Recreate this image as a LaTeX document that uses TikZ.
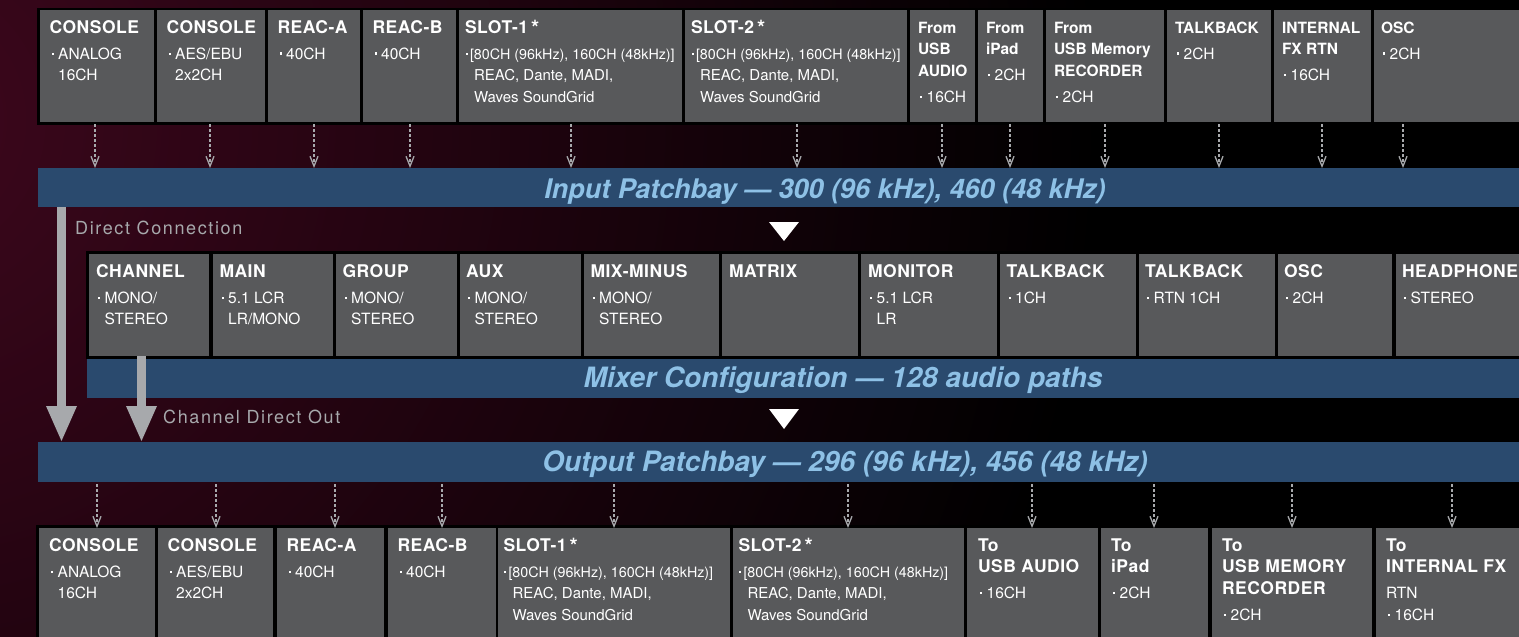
\documentclass[tikz,border=0pt]{standalone}
\usepackage{fontspec}
\setmainfont{TeX Gyre Heros}
\newfontfamily\ttlf[LetterSpace=3]{TeX Gyre Heros}
\newfontfamily\lblf[LetterSpace=9]{TeX Gyre Heros}
\usetikzlibrary{arrows.meta}
\definecolor{cellgray}{HTML}{58595B}
\definecolor{barblue}{HTML}{2A4A6E}
\definecolor{bartxt}{HTML}{8EC1E6}
\definecolor{arrgray}{HTML}{A7A9AC}
\definecolor{maroonbg}{HTML}{3E071D}

\newcommand\Tb[1]{{\ttlf\bfseries\fontsize{17.5}{21.5}\selectfont #1}}
\newcommand\Ts[1]{{\bfseries\fontsize{15.5}{21.5}\selectfont #1}}
\newcommand\Dt{\makebox[8.7pt][l]{\hspace{2pt}\rule[4.3pt]{2.2pt}{2.2pt}}}
\newcommand\Ind{\hspace*{8.7pt}}
\newcommand\Ast{\,\raisebox{-2pt}{\fontsize{21}{21}\selectfont *}}
\newcommand\SlotBody{\makebox[5pt][l]{\hspace{0.5pt}\rule[4.3pt]{2.1pt}{2.1pt}}{\fontsize{14.3}{21.5}\selectfont{}[80CH (96kHz), 160CH (48kHz)]}\\\hspace*{9pt}{\fontsize{15}{21.5}\selectfont REAC, Dante, MADI,}\\\hspace*{9pt}{\fontsize{15}{21.5}\selectfont Waves SoundGrid}}

\tikzset{
  cell/.style={fill=cellgray, draw=none, inner sep=0pt, outer sep=0pt, anchor=north west},
  celltxt/.style={anchor=north west, inner sep=0pt, outer sep=0pt, align=left, text=white,
    font=\fontsize{15.5}{21.5}\selectfont},
  bar/.style={fill=barblue, draw=none, inner sep=0pt, outer sep=0pt, anchor=north west},
  bartext/.style={text=bartxt, inner sep=0pt, anchor=base},
  lbl/.style={text=arrgray, inner sep=0pt, anchor=base west, font=\lblf\fontsize{18}{20}\selectfont},
  dasharrow/.style={draw=arrgray, line width=1.6pt, dash pattern=on 2.6pt off 2.4pt,
    shorten <=2pt, -{Straight Barb[length=10pt,width=8pt,line width=1.3pt]}},
  bigarrow/.style={draw=arrgray, line width=9pt, -{Triangle[length=35pt,width=31pt,line width=0pt]}},
  marker/.style={fill=white, draw=none}
}

\newcommand\cell[7]{%
  \node[cell, minimum width={#4-#2}, minimum height={#5-#3}] (#1) at (#2,#3) {};
  \node[celltxt] (#1-t) at ([shift={(#6pt,-9pt)}]#1.north west) {\rule{0pt}{14pt}#7};}

\begin{document}
\begin{tikzpicture}[x=1pt,y=-1pt]
\useasboundingbox (0,0) rectangle (1519,637);
\begin{scope}
\clip (0,0) rectangle (1519,637);
% background
\fill[black] (0,0) rectangle (1519,637);
\shade[inner color=maroonbg, outer color=black] (-100,120) circle (1200pt);
% frames
\fill[black] (37,8) rectangle (1530,125);
\fill[black] (86,251) rectangle (1530,359);
\fill[black] (36,525) rectangle (1530,640);

% top row
\cell{t1}{40}{10}{154}{122}{9.5}{\Tb{CONSOLE}\\[4.5pt]\Dt ANALOG\\\Ind 16CH}
\cell{t2}{157}{10}{265}{122}{9.5}{\Tb{CONSOLE}\\[4.5pt]\Dt AES/EBU\\\Ind 2x2CH}
\cell{t3}{268}{10}{360}{122}{9.5}{\Tb{REAC-A}\\[4.5pt]\Dt 40CH}
\cell{t4}{363}{10}{456}{122}{9.5}{\Tb{REAC-B}\\[4.5pt]\Dt 40CH}
\cell{t5}{459}{10}{682}{122}{6}{\Tb{SLOT-1\Ast}\\[4.5pt]\SlotBody}
\cell{t6}{685}{10}{907}{122}{6}{\Tb{SLOT-2\Ast}\\[4.5pt]\SlotBody}
\cell{t7}{910}{10}{975}{122}{8}{\Ts{From}\\\Ts{USB}\\\Ts{AUDIO}\\[4.5pt]\Dt 16CH}
\cell{t8}{978}{10}{1043}{122}{8}{\Ts{From}\\\Ts{iPad}\\[4.5pt]\Dt 2CH}
\cell{t9}{1046}{10}{1164}{122}{8}{\Ts{From}\\\Ts{USB Memory}\\\Ts{RECORDER}\\[4.5pt]\Dt 2CH}
\cell{t10}{1167}{10}{1271}{122}{8}{\Ts{TALKBACK}\\[4.5pt]\Dt 2CH}
\cell{t11}{1274}{10}{1371}{122}{8}{\Ts{INTERNAL}\\\Ts{FX RTN}\\[4.5pt]\Dt 16CH}
\cell{t12}{1374}{10}{1530}{122}{7}{\Ts{OSC}\\[4.5pt]\Dt 2CH}

% mixer row
\cell{m1}{89}{254}{209}{356}{7}{\Tb{CHANNEL}\\[4.5pt]\Dt MONO/\\\Ind STEREO}
\cell{m2}{213}{254}{333}{356}{6.5}{\Tb{MAIN}\\[4.5pt]\Dt 5.1 LCR\\\Ind LR/MONO}
\cell{m3}{336}{254}{457}{356}{6.5}{\Tb{GROUP}\\[4.5pt]\Dt MONO/\\\Ind STEREO}
\cell{m4}{460}{254}{581}{356}{6}{\Tb{AUX}\\[4.5pt]\Dt MONO/\\\Ind STEREO}
\cell{m5}{584}{254}{719}{356}{6.5}{\Tb{MIX-MINUS}\\[4.5pt]\Dt MONO/\\\Ind STEREO}
\cell{m6}{722}{254}{858}{356}{7}{\Tb{MATRIX}}
\cell{m7}{861}{254}{997}{356}{7}{\Tb{MONITOR}\\[4.5pt]\Dt 5.1 LCR\\\Ind LR}
\cell{m8}{1000}{254}{1136}{356}{6.5}{\Tb{TALKBACK}\\[4.5pt]\Dt 1CH}
\cell{m9}{1139}{254}{1275}{356}{6}{\Tb{TALKBACK}\\[4.5pt]\Dt RTN 1CH}
\cell{m10}{1278}{254}{1392}{356}{6}{\Tb{OSC}\\[4.5pt]\Dt 2CH}
\cell{m11}{1396}{254}{1530}{356}{6}{\Tb{HEADPHONE}\\[4.5pt]\Dt STEREO}

% bottom row
\cell{o1}{39}{528}{155}{640}{10}{\Tb{CONSOLE}\\[4.5pt]\Dt ANALOG\\\Ind 16CH}
\cell{o2}{158}{528}{273}{640}{9.5}{\Tb{CONSOLE}\\[4.5pt]\Dt AES/EBU\\\Ind 2x2CH}
\cell{o3}{277}{528}{384}{640}{9.5}{\Tb{REAC-A}\\[4.5pt]\Dt 40CH}
\cell{o4}{388}{528}{496}{640}{9.5}{\Tb{REAC-B}\\[4.5pt]\Dt 40CH}
\cell{o5}{498}{528}{730}{640}{5.5}{\Tb{SLOT-1\Ast}\\[4.5pt]\SlotBody}
\cell{o6}{733}{528}{964}{640}{5.5}{\Tb{SLOT-2\Ast}\\[4.5pt]\SlotBody}
\cell{o7}{967}{528}{1098}{640}{11}{\Tb{To}\\\Tb{USB AUDIO}\\[4.5pt]\Dt 16CH}
\cell{o8}{1101}{528}{1208}{640}{10}{\Tb{To}\\\Tb{iPad}\\[4.5pt]\Dt 2CH}
\cell{o9}{1212}{528}{1372}{640}{10}{\Tb{To}\\\Tb{USB MEMORY}\\\Tb{RECORDER}\\[4.5pt]\Dt 2CH}
\cell{o10}{1376}{528}{1530}{640}{10}{\Tb{To}\\\Tb{INTERNAL FX}\\[4.5pt]RTN\\\Dt 16CH}

% bars
\node[bar, minimum width=1492, minimum height=39] (inbar) at (38,168) {};
\node[bar, minimum width=1443, minimum height=39] (mixbar) at (87,359) {};
\node[bar, minimum width=1492, minimum height=40] (outbar) at (38,442) {};
\node[bartext, font=\bfseries\itshape\fontsize{27}{30}\selectfont] (inlbl) at (825,198) {Input Patchbay — 300 (96 kHz), 460 (48 kHz)};
\node[bartext, font=\bfseries\itshape\fontsize{28}{30}\selectfont] (mixlbl) at (843,387) {Mixer Configuration — 128 audio paths};
\node[bartext, font=\bfseries\itshape\fontsize{28}{30}\selectfont] (outlbl) at (845,471) {Output Patchbay — 296 (96 kHz), 456 (48 kHz)};

% labels
\node[lbl] (dclbl) at (75,234) {Direct Connection};
\node[lbl] (cdlbl) at (163,423) {Channel Direct Out};

% flow markers
\fill[marker] (769,222) -- (799,222) -- (784,241) -- cycle;
\fill[marker] (769,409) -- (799,409) -- (784,429) -- cycle;

% dashed arrows: sources -> input patchbay
\foreach \n/\d in {t1/55,t2/53,t3/46,t4/47,t5/112,t6/112,t7/32,t8/32,t9/59,t10/52,t11/48,t12/29}{
  \coordinate (a-\n) at ([xshift=\d pt]\n.south west);
  \draw[dasharrow] (a-\n) -- (a-\n |- inbar.north);
}
% dashed arrows: output patchbay -> destinations
\foreach \n/\d in {o1/58,o2/58,o3/58,o4/54,o5/116,o6/115,o7/65,o8/53,o9/80,o10/76}{
  \coordinate (b-\n) at ([xshift=\d pt]\n.north west);
  \draw[dasharrow] (b-\n |- outbar.south) -- (b-\n);
}

% thick arrows
\coordinate (dcs) at ([xshift=23.5pt]inbar.south west);
\coordinate (dce) at ([xshift=23.5pt,yshift=1pt]outbar.north west);
\draw[bigarrow] (dcs) -- (dce);
\coordinate (cds) at ([xshift=52.5pt]m1.south west);
\coordinate (cde) at ([xshift=103.5pt,yshift=1pt]outbar.north west);
\draw[bigarrow] (cds) -- (cde);
\end{scope}
\end{tikzpicture}
\end{document}
